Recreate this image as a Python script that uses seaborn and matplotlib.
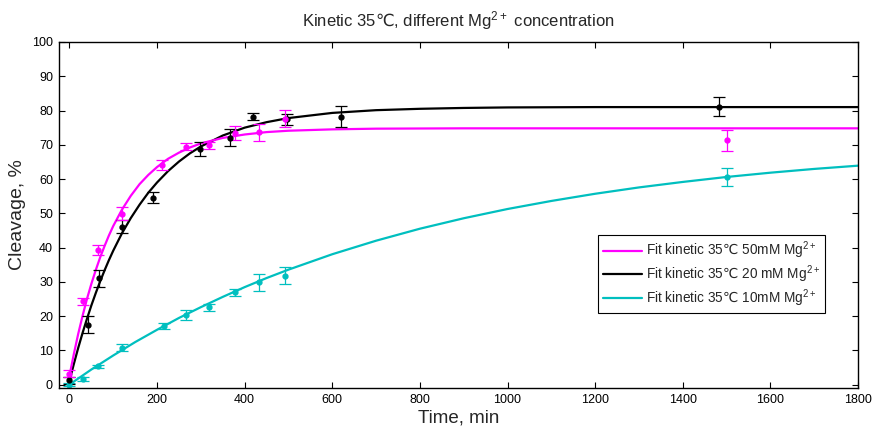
import matplotlib
matplotlib.use("Agg")
import matplotlib.pyplot as plt
import seaborn as sns

# ---------------- data ----------------
# measured points
t_50 = [0, 30, 65, 120, 211, 265, 318, 379, 432, 493, 1500]
y_50 = [3.2, 24.3, 39.3, 49.9, 64.2, 69.4, 69.9, 73.5, 73.7, 77.6, 71.3]
e_50 = [1.0, 1.0, 1.5, 2.0, 1.5, 1.0, 1.0, 2.0, 2.5, 2.5, 3.1]

t_20 = [0, 43, 68, 120, 191, 299, 366, 418, 497, 620, 1483]
y_20 = [1.2, 17.5, 31.0, 46.1, 54.6, 68.8, 72.0, 78.2, 77.4, 78.2, 81.1]
e_20 = [1.0, 2.5, 2.5, 2.0, 1.5, 2.0, 2.5, 1.0, 1.5, 3.0, 2.8]

t_10 = [0, 30, 65, 120, 215, 266, 318, 379, 432, 491, 1502]
y_10 = [0.0, 1.6, 5.3, 10.8, 17.1, 20.4, 22.5, 26.9, 29.8, 31.8, 60.5]
e_10 = [0.5, 0.7, 0.5, 1.0, 1.0, 1.5, 1.0, 1.0, 2.5, 2.5, 2.6]

# fitted curves
fit_t_fast = [0, 10, 20, 30, 40, 50, 60, 70, 80, 90, 100, 120, 140, 160, 180,
              200, 225, 250, 275, 300, 350, 400, 450, 500, 600, 700, 800, 900,
              1000, 1200, 1400, 1600, 1800]
fit_50 = [2.5, 8.9, 14.8, 20.1, 25.0, 29.4, 33.4, 37.1, 40.4, 43.5, 46.3, 51.1,
          55.1, 58.5, 61.2, 63.5, 65.9, 67.7, 69.2, 70.4, 72.0, 73.0, 73.7,
          74.1, 74.5, 74.7, 74.75, 74.8, 74.8, 74.8, 74.8, 74.8, 74.8]
fit_20 = [1.0, 6.0, 10.7, 15.1, 19.2, 23.1, 26.7, 30.1, 33.3, 36.3, 39.1, 44.2,
          48.6, 52.5, 56.0, 59.0, 62.3, 65.1, 67.5, 69.5, 72.7, 75.0, 76.6,
          77.8, 79.3, 80.1, 80.5, 80.75, 80.9, 81.0, 81.0, 81.0, 81.0]

fit_t_slow = [0, 50, 100, 150, 200, 250, 300, 350, 400, 450, 500, 600, 700,
              800, 900, 1000, 1100, 1200, 1300, 1400, 1500, 1600, 1700, 1800]
fit_10 = [0.0, 4.4, 8.5, 12.4, 16.0, 19.45, 22.6, 25.6, 28.45, 31.1, 33.55,
          38.05, 42.0, 45.5, 48.55, 51.25, 53.6, 55.7, 57.55, 59.15, 60.6,
          61.85, 62.95, 63.9]

DEG = "$\\mathsf{\u2103}$"
labels = ["Fit kinetic 35" + DEG + " 50mM Mg$^{2+}$",
          "Fit kinetic 35" + DEG + " 20 mM Mg$^{2+}$",
          "Fit kinetic 35" + DEG + " 10mM Mg$^{2+}$"]
title = "Kinetic 35" + DEG + ", different Mg$^{2+}$ concentration"
colors = ["#FF00FF", "#000000", "#00BFBF"]

x_ticks = [0, 200, 400, 600, 800, 1000, 1200, 1400, 1600, 1800]
y_ticks = [0, 10, 20, 30, 40, 50, 60, 70, 80, 90, 100]

# ---------------- style ----------------
sns.set_style("white")
plt.rcParams['font.family'] = ['Liberation Sans', 'DejaVu Sans']
plt.rcParams['mathtext.fontset'] = 'custom'
plt.rcParams['mathtext.rm'] = 'Liberation Sans'
plt.rcParams['mathtext.sf'] = 'DejaVu Sans'
plt.rcParams['mathtext.default'] = 'regular'

fig = plt.figure(figsize=(8.74, 4.28), dpi=100)
ax = fig.add_axes([58.5 / 874, 40 / 428, 799.5 / 874, 346 / 428])

# fitted lines
sns.lineplot(x=fit_t_slow, y=fit_10, color=colors[2], lw=1.6, ax=ax, label=labels[2])
sns.lineplot(x=fit_t_fast, y=fit_20, color=colors[1], lw=1.6, ax=ax, label=labels[1])
sns.lineplot(x=fit_t_fast, y=fit_50, color=colors[0], lw=1.6, ax=ax, label=labels[0])

# measured points with error bars
for t, y, e, c in [(t_10, y_10, e_10, colors[2]),
                   (t_20, y_20, e_20, colors[1]),
                   (t_50, y_50, e_50, colors[0])]:
    ax.errorbar(t, y, yerr=e, fmt='o', color=c, ms=3.5, elinewidth=0.9,
                capsize=4.5, capthick=0.9, label='_nolegend_')

ax.set_xlim(-25, 1800)
ax.set_ylim(-1, 100)
ax.set_xticks(x_ticks)
ax.set_yticks(y_ticks)
ax.tick_params(direction='in', bottom=True, left=True, top=True, right=True,
               length=4, width=0.8, colors='black', labelsize=9, pad=4)
for s in ax.spines.values():
    s.set_linewidth(1.0)
    s.set_color('black')

ax.set_title(title, fontsize=12, pad=11)
ax.set_xlabel("Time, min", fontsize=13.5, labelpad=3)
ax.set_ylabel("Cleavage, %", fontsize=14, labelpad=4)

handles, labs = ax.get_legend_handles_labels()
order = [labs.index(l) for l in labels]
leg = ax.legend([handles[i] for i in order], [labs[i] for i in order],
                loc='upper left', bbox_to_anchor=(0.675, 0.442), fontsize=9.8,
                frameon=True, fancybox=False, edgecolor='black', framealpha=1,
                handlelength=2.9, borderpad=0.35, labelspacing=0.15,
                handletextpad=0.3, borderaxespad=0)
leg.get_frame().set_linewidth(0.8)

fig.savefig("out.png", dpi=100)
